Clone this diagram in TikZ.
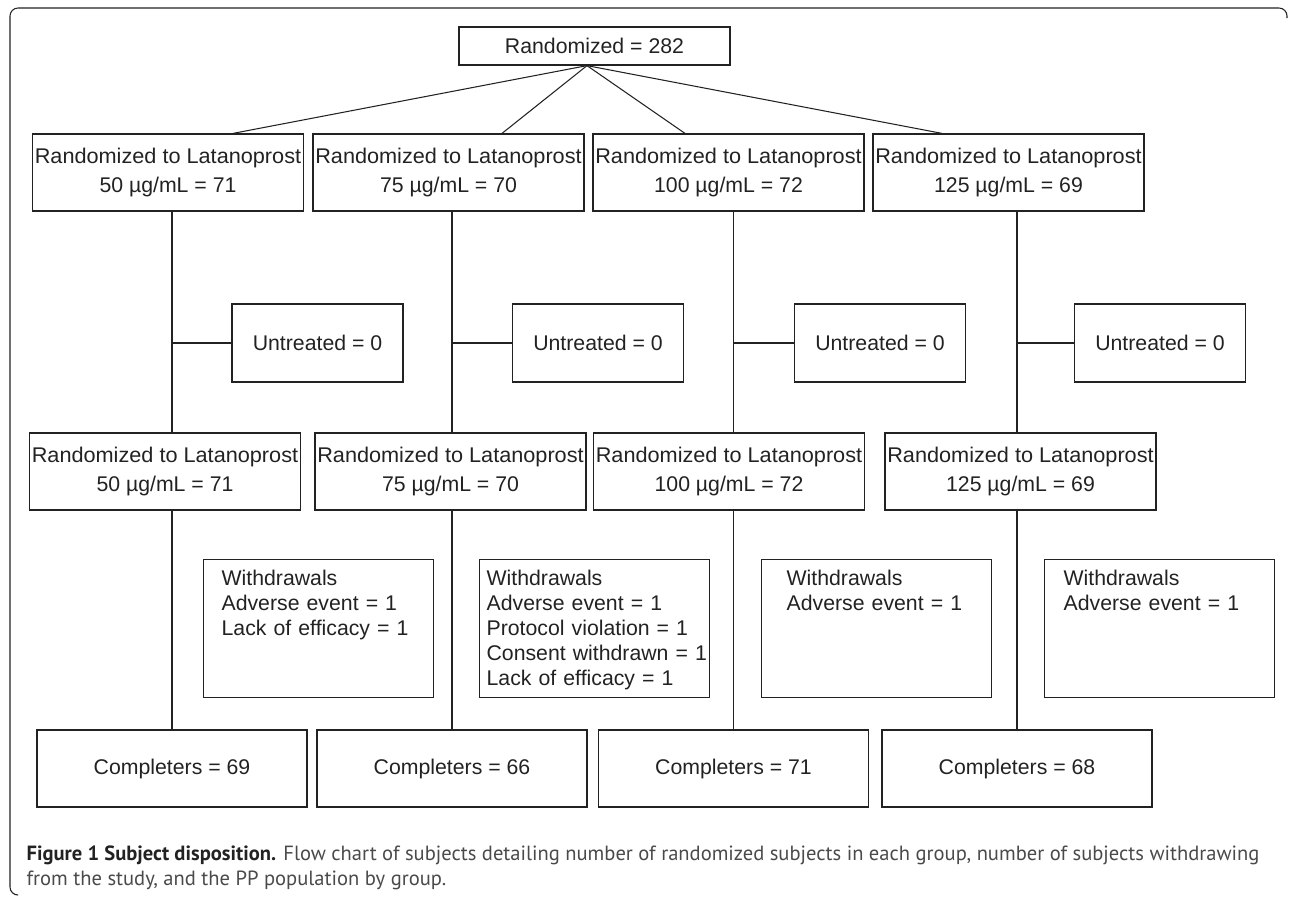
\documentclass[tikz,border=0pt]{standalone}
\usepackage{fontspec}
\setmainfont{Liberation Sans}
\newfontfamily\capfont{PT Sans}
\usetikzlibrary{calc}

\definecolor{ink}{HTML}{222222}
\definecolor{capgray}{HTML}{4A4A4A}
\newcommand{\latline}{\scalebox{1.02}[1]{Randomized to Latanoprost}}

\begin{document}
\begin{tikzpicture}[x=0.02cm, y=-0.02cm, line width=0.7pt,
	box/.style={draw=ink, text=ink, font=\fontsize{12.1}{16.5}\selectfont, align=center, inner sep=0pt},
	randbox/.style={box, minimum width=5.42cm, minimum height=1.54cm},
	untreated/.style={box, minimum width=3.42cm, minimum height=1.56cm},
	wbox/.style={box, align=left, anchor=north west, font=\fontsize{12.1}{14.2}\selectfont,
		text height=0.52cm, text depth=2.24cm, inner ysep=0pt},
	donebox/.style={box, minimum width=5.4cm, minimum height=1.54cm},
	link/.style={draw=ink, line width=0.6pt}]
\useasboundingbox (0,0) rectangle (1290,897);

% frame
\draw[ink, line width=0.6pt, rounded corners=0.16cm] (1287,18) -- (1287,8) -- (10,8) -- (10,895) -- (18,895);

\node[box, minimum width=5.42cm, minimum height=0.76cm] (top) at (594.5,46) {Randomized = 282};
\coordinate (apex) at ($(top.south)+(-7.5,0)$);

% first randomization row
\node[randbox] (r1) at (168,172.5)  {\latline\\50 µg/mL = 71};
\node[randbox] (r2) at (448.5,172.5) {\latline\\75 µg/mL = 70};
\node[randbox] (r3) at (728.5,172.5) {\latline\\100 µg/mL = 72};
\node[randbox] (r4) at (1008.5,172.5) {\latline\\125 µg/mL = 69};

\node[untreated] (u1) at (317.5,343) {Untreated = 0};
\node[untreated] (u2) at (598,343)   {Untreated = 0};
\node[untreated] (u3) at (880,343)   {Untreated = 0};
\node[untreated] (u4) at (1160,343)  {Untreated = 0};

% second row
\node[randbox] (s1) at (165,471.5)   {\latline\\50 µg/mL = 71};
\node[randbox] (s2) at (450.5,471.5) {\latline\\75 µg/mL = 70};
\node[randbox] (s3) at (729,471.5)   {\latline\\100 µg/mL = 72};
\node[randbox] (s4) at (1020.5,471.5) {\latline\\125 µg/mL = 69};

\node[wbox, inner xsep=0.36cm, text width=3.88cm] (w1) at (203,559)
	{Withdrawals\\Adverse event = 1\\Lack of efficacy = 1};
\node[wbox, inner xsep=0.14cm, text width=4.32cm] (w2) at (479,559)
	{Withdrawals\\Adverse event = 1\\Protocol violation = 1\\\mbox{Consent withdrawn = 1}\\Lack of efficacy = 1};
\node[wbox, inner xsep=0.5cm, text width=3.6cm] (w3) at (761,559)
	{Withdrawals\\Adverse event = 1};
\node[wbox, inner xsep=0.38cm, text width=3.84cm] (w4) at (1044,559)
	{Withdrawals\\Adverse event = 1};

\node[donebox, line width=1.1pt] (c1) at (172,768.5) {Completers = 69};
\node[donebox] (c2) at (452,768.5)   {Completers = 66};
\node[donebox] (c3) at (733.5,768.5) {Completers = 71};
\node[donebox] (c4) at (1017,768.5)  {Completers = 68};

% connectors
\draw[link] (apex) -- ($(r1.north)+(65,0)$);
\draw[link] (apex) -- ($(r2.north)+(53.5,0)$);
\draw[link] (apex) -- ($(r3.north)+(-43.5,0)$);
\draw[link] (apex) -- ($(r4.north)+(-66.5,0)$);

\draw[link] (c1.north |- r1.south) -- (c1.north |- s1.north);
\draw[link] (c1.north |- s1.south) -- (c1.north);
\draw[link] (c1.north |- u1.west) -- (u1.west);
\draw[link] (c2.north |- r2.south) -- (c2.north |- s2.north);
\draw[link] (c2.north |- s2.south) -- (c2.north);
\draw[link] (c2.north |- u2.west) -- (u2.west);
\draw[link] (c3.north |- r3.south) -- (c3.north |- s3.north);
\draw[link] (c3.north |- s3.south) -- (c3.north);
\draw[link] (c3.north |- u3.west) -- (u3.west);
\draw[link] (c4.north |- r4.south) -- (c4.north |- s4.north);
\draw[link] (c4.north |- s4.south) -- (c4.north);
\draw[link] (c4.north |- u4.west) -- (u4.west);

% caption
\node[anchor=base west, inner sep=0pt, text=capgray, font=\capfont\fontsize{11.7}{14}\selectfont] (cap1) at (26,860)
	{\textbf{\color{ink}Figure 1 Subject disposition.} Flow chart of subjects detailing number of randomized subjects in each group, number of subjects withdrawing};
\node[anchor=base west, inner sep=0pt, text=capgray, font=\capfont\fontsize{11.7}{14}\selectfont] (cap2) at (26,885)
	{from the study, and the PP population by group.};

\end{tikzpicture}
\end{document}
